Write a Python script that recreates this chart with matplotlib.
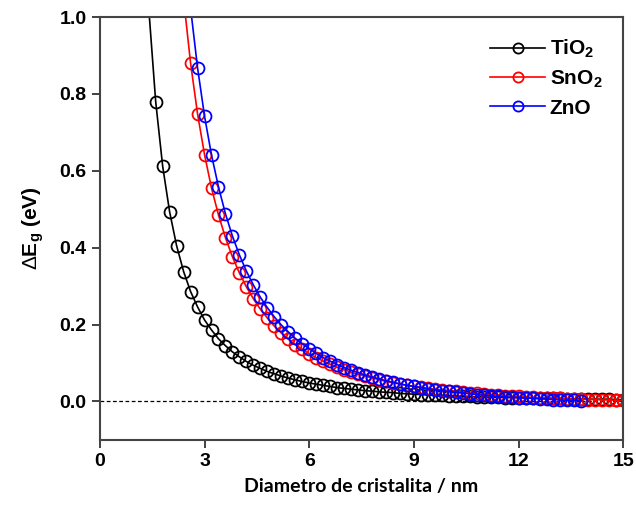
import matplotlib
matplotlib.use("Agg")
from matplotlib import pyplot as plt

# diametro de cristalita (nm) e deslocamento do band gap (eV)
D_TIO2 = [1.4, 1.6, 1.8, 2.0, 2.2, 2.4, 2.6, 2.8, 3.0, 3.2, 3.4, 3.6, 3.8, 4.0,
          4.2, 4.4, 4.6, 4.8, 5.0, 5.2, 5.4, 5.6, 5.8, 6.0, 6.2, 6.4, 6.6, 6.8,
          7.0, 7.2, 7.4, 7.6, 7.8, 8.0, 8.2, 8.4, 8.6, 8.8, 9.0, 9.2, 9.4, 9.6,
          9.8, 10.0, 10.2, 10.4, 10.6, 10.8, 11.0, 11.2, 11.4, 11.6, 11.8, 12.0,
          12.2, 12.4, 12.6, 12.8, 13.0, 13.2, 13.4, 13.6, 13.8, 14.0, 14.2, 14.4,
          14.6, 14.8, 15.0]
E_TIO2 = [1.024, 0.780, 0.612, 0.493, 0.405, 0.338, 0.286, 0.246, 0.212, 0.186,
          0.163, 0.145, 0.129, 0.116, 0.104, 0.094, 0.086, 0.078, 0.072, 0.066,
          0.061, 0.056, 0.052, 0.048, 0.045, 0.042, 0.039, 0.036, 0.034, 0.032,
          0.030, 0.028, 0.027, 0.025, 0.024, 0.023, 0.021, 0.020, 0.019, 0.018,
          0.017, 0.016, 0.016, 0.015, 0.014, 0.014, 0.013, 0.012, 0.012, 0.011,
          0.011, 0.010, 0.010, 0.010, 0.009, 0.009, 0.008, 0.008, 0.008, 0.008,
          0.007, 0.007, 0.007, 0.006, 0.006, 0.006, 0.006, 0.005, 0.005]

D_SNO2 = [2.4, 2.6, 2.8, 3.0, 3.2, 3.4, 3.6, 3.8, 4.0, 4.2, 4.4, 4.6, 4.8, 5.0,
          5.2, 5.4, 5.6, 5.8, 6.0, 6.2, 6.4, 6.6, 6.8, 7.0, 7.2, 7.4, 7.6, 7.8,
          8.0, 8.2, 8.4, 8.6, 8.8, 9.0, 9.2, 9.4, 9.6, 9.8, 10.0, 10.2, 10.4,
          10.6, 10.8, 11.0, 11.2, 11.4, 11.6, 11.8, 12.0, 12.2, 12.4, 12.6, 12.8,
          13.0, 13.2, 13.4, 13.6, 13.8, 14.0, 14.2, 14.4, 14.6, 14.8, 15.0]
E_SNO2 = [1.047, 0.880, 0.748, 0.642, 0.555, 0.485, 0.426, 0.376, 0.334, 0.298,
          0.267, 0.240, 0.217, 0.196, 0.178, 0.162, 0.148, 0.136, 0.124, 0.114,
          0.105, 0.097, 0.089, 0.083, 0.076, 0.071, 0.066, 0.061, 0.057, 0.052,
          0.049, 0.045, 0.042, 0.039, 0.037, 0.034, 0.032, 0.030, 0.028, 0.026,
          0.024, 0.022, 0.021, 0.019, 0.018, 0.017, 0.015, 0.014, 0.013, 0.012,
          0.011, 0.010, 0.009, 0.009, 0.008, 0.007, 0.006, 0.006, 0.005, 0.005,
          0.004, 0.004, 0.003, 0.003]

D_ZNO = [2.6, 2.8, 3.0, 3.2, 3.4, 3.6, 3.8, 4.0, 4.2, 4.4, 4.6, 4.8, 5.0, 5.2,
         5.4, 5.6, 5.8, 6.0, 6.2, 6.4, 6.6, 6.8, 7.0, 7.2, 7.4, 7.6, 7.8, 8.0,
         8.2, 8.4, 8.6, 8.8, 9.0, 9.2, 9.4, 9.6, 9.8, 10.0, 10.2, 10.4, 10.6,
         10.8, 11.0, 11.2, 11.4, 11.6, 11.8, 12.0, 12.2, 12.4, 12.6, 12.8, 13.0,
         13.2, 13.4, 13.6, 13.8]
E_ZNO = [1.023, 0.868, 0.742, 0.641, 0.558, 0.488, 0.430, 0.381, 0.339, 0.303,
         0.271, 0.244, 0.220, 0.199, 0.181, 0.164, 0.150, 0.137, 0.125, 0.114,
         0.105, 0.096, 0.088, 0.081, 0.075, 0.069, 0.064, 0.059, 0.054, 0.050,
         0.046, 0.042, 0.039, 0.036, 0.033, 0.030, 0.028, 0.026, 0.024, 0.022,
         0.020, 0.018, 0.016, 0.015, 0.013, 0.012, 0.011, 0.010, 0.009, 0.008,
         0.007, 0.006, 0.005, 0.004, 0.003, 0.003, 0.002]

plt.rcParams["font.family"] = "Liberation Sans"
plt.rcParams["mathtext.fontset"] = "custom"
plt.rcParams["mathtext.rm"] = "Liberation Sans"
plt.rcParams["mathtext.bf"] = "Liberation Sans:bold"

fig = plt.figure(figsize=(6.36, 5.08), dpi=100)
ax = fig.add_axes([0.157, 0.134, 0.823, 0.8325])

ax.axhline(0, color="black", lw=0.9, ls=(0, (3, 2)), zorder=1)

series = [(D_TIO2, E_TIO2, "black", r"TiO$_\mathbf{2}$"),
          (D_SNO2, E_SNO2, "#ff0000", r"SnO$_\mathbf{2}$"),
          (D_ZNO, E_ZNO, "#0000ff", "ZnO")]
for d, e, cor, nome in series:
    # primeiro ponto so prolonga a linha para cima do eixo
    ax.plot(d, e, color=cor, lw=1.2, marker="o", markersize=8.6,
            markerfacecolor="none", markeredgewidth=1.3, markevery=slice(1, None),
            label=nome, zorder=2)

ax.set_xlim(0, 15)
ax.set_ylim(-0.1, 1.0)
ax.set_xticks([0, 3, 6, 9, 12, 15])
ax.set_yticks([0.0, 0.2, 0.4, 0.6, 0.8, 1.0])
ax.set_yticklabels(["0.0", "0.2", "0.4", "0.6", "0.8", "1.0"])
ax.tick_params(direction="out", length=6, width=1.3, colors="#333333",
               labelsize=14, labelcolor="black")
for lab in ax.get_xticklabels() + ax.get_yticklabels():
    lab.set_fontweight("bold")
for sp in ax.spines.values():
    sp.set_linewidth(1.5)
    sp.set_color("#444444")

ax.set_xlabel("Diametro de cristalita / nm", fontsize=14, fontweight="bold",
              family="Lato", labelpad=6)
ax.set_ylabel(r"$\Delta$E$_\mathbf{g}$ (eV)", fontsize=15, fontweight="bold",
              labelpad=10)

leg = ax.legend(loc="upper right", frameon=False, fontsize=15, handlelength=2.6,
                handletextpad=0.25, labelspacing=0.4, borderaxespad=0.6,
                numpoints=1, markerscale=0.85)
for t in leg.get_texts():
    t.set_fontweight("bold")
# um marcador so, no meio de cada amostra da legenda
for h in leg.legend_handles:
    h.set_markevery([1])

fig.savefig("out.png", dpi=100)
